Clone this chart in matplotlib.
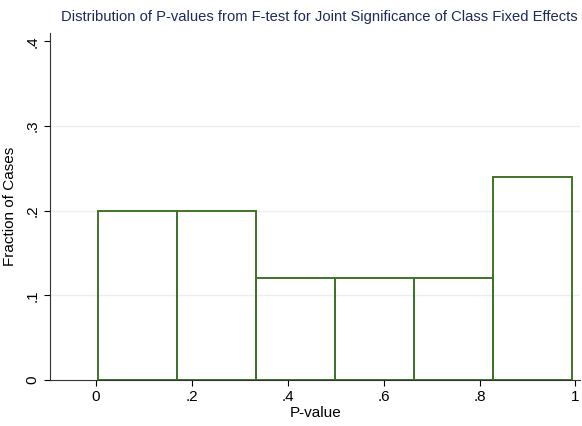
import numpy as np
import matplotlib
matplotlib.use("Agg")
import matplotlib.pyplot as plt

plt.rcParams['font.family'] = ['Liberation Sans', 'DejaVu Sans']

# histogram of p-values (6 bins spanning the observed range)
p_min = 0.004
p_max = 0.992
fractions = [0.20, 0.20, 0.12, 0.12, 0.12, 0.24]
xticks = [0, 0.2, 0.4, 0.6, 0.8, 1.0]
xtick_labels = ['0', '.2', '.4', '.6', '.8', '1']
yticks = [0, 0.1, 0.2, 0.3, 0.4]
ytick_labels = ['0', '.1', '.2', '.3', '.4']

title = "Distribution of P-values from F-test for Joint Significance of Class Fixed Effects"
green = '#3f7428'
navy = '#1c2a5c'

edges = np.linspace(p_min, p_max, len(fractions) + 1)
widths = np.diff(edges)

fig = plt.figure(figsize=(5.82, 4.26), dpi=100)
ax = fig.add_axes([0.086, 0.108, 0.911, 0.815])

for y in yticks[1:-1]:
  ax.axhline(y, color='#e8eff0', lw=1.0, zorder=0)

ax.bar(edges[:-1], fractions, width=widths, align='edge',
       facecolor='none', edgecolor=green, linewidth=1.4, zorder=2)

ax.set_xlim(-0.096, 1.01)
ax.set_ylim(0, 0.41)
ax.set_xticks(xticks)
ax.set_xticklabels(xtick_labels)
ax.set_yticks(yticks)
ax.set_yticklabels(ytick_labels, rotation=90, va='center')
ax.tick_params(labelsize=11, length=4, width=0.8, colors='black')

for s in ['top', 'right']:
  ax.spines[s].set_visible(False)
for s in ['left', 'bottom']:
  ax.spines[s].set_linewidth(0.8)
  ax.spines[s].set_color('#333333')

ax.set_xlabel('P-value', fontsize=11, labelpad=1)
ax.set_ylabel('Fraction of Cases', fontsize=11, labelpad=6)
fig.text(0.548, 0.96, title, color=navy, fontsize=10.6, ha='center', va='center')

fig.savefig('out.png', dpi=100, facecolor='white')
